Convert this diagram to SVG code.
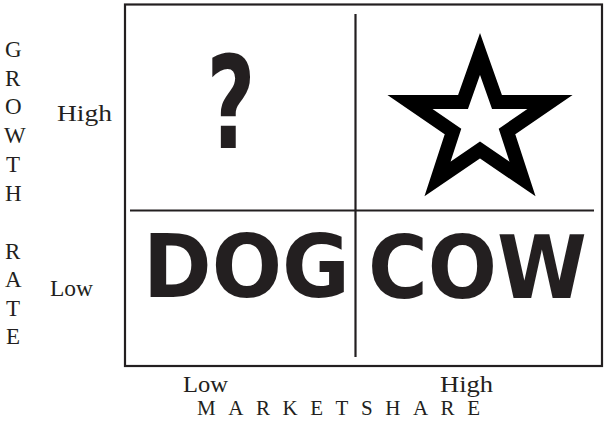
<svg xmlns="http://www.w3.org/2000/svg" width="604" height="431" viewBox="0 0 604 431">
<style>
.ln{stroke:#231f20;stroke-width:2.2;fill:none}
.ser{font-family:"Liberation Serif","Times New Roman",serif;fill:#231f20}
.ax{font-size:23px}
.big{font-family:"DejaVu Sans","Liberation Sans",sans-serif;font-weight:bold;fill:#231f20}
</style>
<rect width="604" height="431" fill="#ffffff"/>
<g id="frame">
<rect class="ln" x="125" y="4.5" width="477" height="361.5" stroke-width="2.6"/>
</g>
<g id="connectors">
<line class="ln" x1="355.5" y1="14" x2="355.5" y2="357"/>
<line class="ln" x1="130" y1="210.5" x2="594" y2="210.5"/>
</g>
<g id="y-axis" class="ser ax">
<text x="5" y="57">G</text>
<text x="5" y="86">R</text>
<text x="5" y="114">O</text>
<text x="4" y="143">W</text>
<text x="6" y="172">T</text>
<text x="5" y="201">H</text>
<text x="5" y="259">R</text>
<text x="5" y="287">A</text>
<text x="6" y="316">T</text>
<text x="6" y="344">E</text>
</g>
<g id="y-labels" class="ser ax">
<text x="57" y="121" textLength="55" lengthAdjust="spacingAndGlyphs">High</text>
<text x="50" y="296" textLength="43" lengthAdjust="spacingAndGlyphs">Low</text>
</g>
<g id="x-labels" class="ser ax">
<text x="183" y="392" textLength="45" lengthAdjust="spacingAndGlyphs">Low</text>
<text x="440" y="392" textLength="53" lengthAdjust="spacingAndGlyphs">High</text>
<text x="197" y="415" font-size="21" textLength="283" lengthAdjust="spacing">MARKETSHARE</text>
</g>
<g id="question">
<text class="big" x="0" y="0" font-size="128" text-anchor="middle" transform="translate(231,148) scale(0.66,1)">?</text>
</g>
<g id="star">
<polygon points="480,54 497,102 550,102 507,131.5 522.5,179 480,150 437.5,179 453,131.5 410,102 463,102" fill="#ffffff" stroke="#000000" stroke-width="14" stroke-linejoin="miter" stroke-miterlimit="10"/>
</g>
<g id="dog">
<text class="big" x="143" y="297" font-size="88" textLength="207" lengthAdjust="spacingAndGlyphs">DOG</text>
</g>
<g id="cow">
<text class="big" x="368" y="298" font-size="88" textLength="219" lengthAdjust="spacingAndGlyphs">COW</text>
</g>
</svg>
